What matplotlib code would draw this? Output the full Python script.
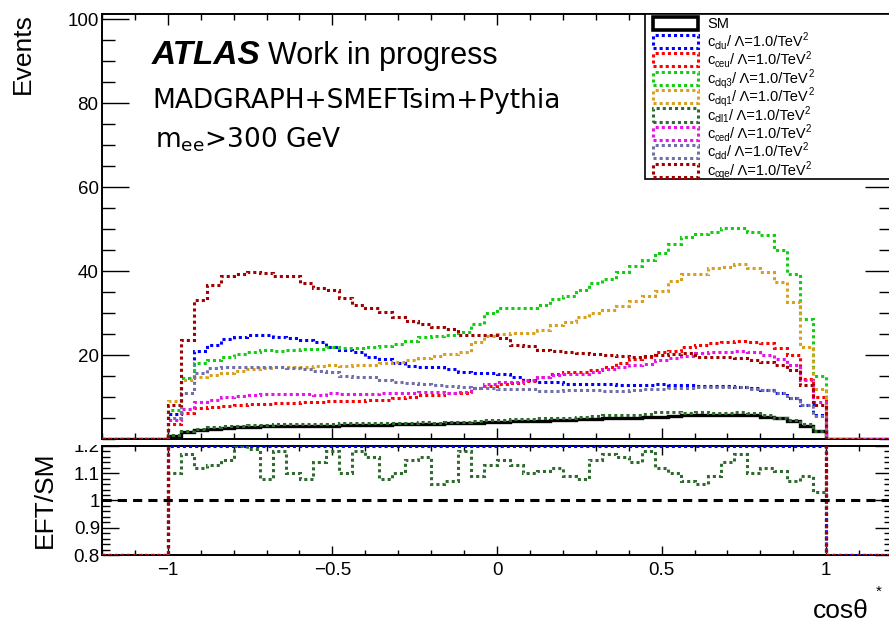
import numpy as np
import matplotlib
matplotlib.use("Agg")
import matplotlib.pyplot as plt
from matplotlib.patches import Rectangle
from matplotlib.text import Annotation
from matplotlib.ticker import MultipleLocator
from matplotlib.transforms import Bbox, TransformedBbox

plt.rcParams['font.family'] = ['Liberation Sans', 'DejaVu Sans']
plt.rcParams['mathtext.default'] = 'regular'

# Figure size in pixels (ROOT canvas)
W, H = 889, 624

# cos(theta*) binning: 50 bins between -1 and 1, empty bins out to +-1.2
edges = np.linspace(-1, 1, 51)

sm = [0.8, 1.6, 2.1, 2.4, 2.6, 2.8, 2.9, 3.0, 3.1, 3.1, 3.1, 3.2, 3.2, 3.3, 3.3, 3.4, 3.4, 3.5, 3.5, 3.6,
      3.6, 3.7, 3.8, 3.9, 4.0, 4.1, 4.2, 4.3, 4.4, 4.5, 4.6, 4.7, 4.8, 4.9, 5.0, 5.1, 5.2, 5.3, 5.5, 5.6,
      5.6, 5.7, 5.7, 5.7, 5.6, 5.3, 4.9, 4.2, 3.2, 1.8]
clu = [6.0, 14.5, 21.0, 22.4, 23.7, 24.2, 24.8, 24.8, 24.2, 24.0, 23.6, 23.0, 22.0, 21.2, 20.6, 19.6, 19.0, 18.2, 17.5, 17.1,
       17.2, 16.6, 16.0, 15.6, 15.6, 15.5, 14.7, 14.0, 13.6, 13.5, 13.2, 13.2, 13.2, 13.0, 12.9, 12.9, 12.9, 13.0, 12.9, 12.9,
       12.7, 12.7, 12.7, 12.5, 12.2, 11.7, 11.0, 9.8, 8.1, 5.7]
ceu = [3.5, 6.2, 7.3, 7.7, 7.9, 8.1, 8.3, 8.3, 8.5, 8.5, 8.8, 8.9, 9.1, 9.1, 9.1, 9.3, 9.4, 9.7, 10.1, 10.5,
       10.5, 10.9, 11.0, 12.1, 12.6, 13.2, 13.4, 13.8, 14.7, 15.5, 15.9, 16.0, 16.4, 17.2, 18.0, 19.0, 19.6, 20.6, 21.0, 21.8,
       22.4, 22.8, 23.0, 23.4, 23.2, 22.8, 21.7, 20.0, 14.4, 10.1]
clq3 = [7.0, 14.5, 18.0, 18.8, 19.6, 20.2, 20.8, 21.2, 21.0, 21.3, 21.4, 21.4, 21.8, 21.7, 21.7, 21.8, 22.1, 22.6, 23.3, 24.2,
        24.5, 24.8, 25.5, 27.5, 29.9, 31.1, 31.3, 31.3, 31.9, 33.3, 34.0, 35.5, 37.2, 38.0, 39.8, 41.2, 42.6, 44.2, 46.4, 48.2,
        48.7, 49.4, 50.2, 50.3, 49.4, 48.6, 45.0, 39.4, 28.5, 15.0]
clq1 = [9.0, 14.0, 14.8, 15.2, 15.8, 16.3, 16.6, 16.8, 17.1, 17.1, 17.2, 17.4, 17.6, 17.5, 17.6, 17.6, 18.0, 18.4, 18.8, 19.4,
        19.8, 20.2, 20.8, 23.2, 24.5, 25.0, 25.2, 25.3, 26.0, 27.1, 27.9, 29.0, 29.9, 30.7, 31.6, 32.9, 34.0, 35.3, 37.7, 39.2,
        39.4, 40.6, 41.0, 41.6, 40.6, 39.8, 37.5, 32.7, 22.0, 12.0]
cll1 = [0.9, 1.9, 2.5, 2.8, 3.0, 3.2, 3.3, 3.4, 3.5, 3.5, 3.5, 3.6, 3.6, 3.7, 3.8, 3.7, 3.8, 3.9, 3.9, 4.0,
        3.9, 4.0, 4.1, 4.3, 4.5, 4.6, 4.7, 4.8, 4.9, 4.9, 5.0, 5.3, 5.5, 5.6, 5.7, 5.8, 6.0, 6.5, 6.4, 6.3,
        6.4, 6.3, 6.3, 6.4, 6.1, 5.8, 5.1, 4.5, 3.5, 2.0]
ced = [4.5, 7.1, 8.9, 9.4, 9.9, 10.2, 10.5, 10.6, 10.7, 10.7, 10.6, 10.5, 10.9, 10.7, 10.6, 10.6, 10.9, 10.9, 11.0, 11.3,
       11.3, 11.0, 11.3, 12.1, 13.1, 13.6, 13.6, 14.0, 14.7, 15.2, 15.5, 15.5, 15.9, 16.6, 17.2, 17.6, 17.9, 18.8, 19.4, 19.8,
       20.4, 20.6, 20.8, 20.9, 20.6, 20.0, 19.0, 17.6, 14.0, 8.9]
cld = [5.0, 11.0, 15.6, 16.8, 17.1, 17.2, 17.2, 17.2, 17.2, 17.0, 16.6, 16.3, 15.9, 15.1, 14.8, 14.7, 14.0, 13.6, 13.3, 13.0,
       12.9, 12.6, 12.3, 12.1, 12.1, 11.9, 11.9, 11.8, 11.5, 11.5, 11.7, 11.7, 11.7, 11.5, 11.5, 11.7, 11.8, 12.0, 12.1, 12.2,
       12.3, 12.3, 12.4, 12.3, 12.0, 11.6, 11.0, 9.8, 8.0, 5.5]
cqe = [8.0, 23.5, 33.0, 36.6, 38.8, 39.4, 39.8, 39.6, 38.8, 38.8, 37.1, 36.0, 35.5, 33.5, 31.9, 31.3, 30.3, 29.1, 28.2, 27.5,
       26.7, 26.1, 24.8, 24.8, 24.8, 24.0, 22.4, 22.1, 21.2, 21.0, 20.6, 20.4, 20.2, 20.0, 19.8, 19.6, 19.8, 20.0, 20.2, 20.4,
       19.6, 19.6, 19.6, 19.4, 18.8, 18.4, 17.6, 16.4, 12.8, 8.1]

# EFT/SM for c_ll1, read from the lower pad
ratio_cll1 = [1.10, 1.17, 1.12, 1.13, 1.15, 1.20, 1.19, 1.08, 1.18, 1.10, 1.08, 1.14, 1.18, 1.10, 1.18, 1.16, 1.08, 1.10, 1.15, 1.16,
              1.06, 1.07, 1.18, 1.09, 1.13, 1.15, 1.13, 1.10, 1.11, 1.12, 1.09, 1.08, 1.15, 1.17, 1.16, 1.14, 1.18, 1.12, 1.10, 1.07,
              1.06, 1.09, 1.14, 1.17, 1.10, 1.12, 1.11, 1.07, 1.09, 1.03]

names = ['clu', 'ceu', 'clq3', 'clq1', 'cll1', 'ced', 'cld', 'cqe']
eft = [clu, ceu, clq3, clq1, cll1, ced, cld, cqe]
colors = ['#0000ff', '#ff0000', '#14cc14', '#d9a020', '#2f6a2f', '#e614e6', '#7070a8', '#a00000']

dotted = (0, (1, 1))
full_edges = np.r_[-1.2, edges, 1.2]


def pad(v):
    return np.r_[0.0, np.asarray(v, float), 0.0]


def px(x, y):
    return x / W, 1 - y / H


fig = plt.figure(figsize=(W / 100, H / 100), dpi=100)
fig.set_facecolor('white')

ax1 = fig.add_axes([102 / W, 1 - 439 / H, 790 / W, 425 / H])
ax2 = fig.add_axes([102 / W, 1 - 555 / H, 790 / W, 109 / H])

# upper pad: distributions
ax1.stairs(pad(sm), full_edges, baseline=None, color='black', lw=2.4, zorder=3)
for vals, c in zip(eft, colors):
    ax1.stairs(pad(vals), full_edges, baseline=None, color=c, lw=2.2, linestyle=dotted, zorder=3)

ax1.set_xlim(-1.2, 1.2)
ax1.set_ylim(0, 101.2)
ax1.set_yticks([20, 40, 60, 80, 100])
ax1.yaxis.set_minor_locator(MultipleLocator(5))
ax1.xaxis.set_major_locator(MultipleLocator(0.5))
ax1.xaxis.set_minor_locator(MultipleLocator(0.1))
ax1.tick_params(which='both', direction='in', top=True, right=True, labelbottom=False, width=1.0)
ax1.tick_params(axis='y', which='major', length=19.5, labelsize=13.5, pad=2.5)
ax1.tick_params(axis='y', which='minor', length=9.5)
ax1.tick_params(axis='x', which='major', length=8)
ax1.tick_params(axis='x', which='minor', length=4.3)

# lower pad: ratios
sm_arr = np.asarray(sm, float)
for i, (vals, c) in enumerate(zip(eft, colors)):
    if names[i] == 'cll1':
        r = pad(ratio_cll1)
    else:
        r = pad(np.asarray(vals, float) / sm_arr)
    if i == 0:
        r = np.clip(r, 0.8, 1.2)
    else:
        r = np.maximum(r, 0.8)
    ax2.stairs(r, full_edges, baseline=None, color=c, lw=2.2, linestyle=dotted, zorder=3)
ax2.axhline(1.0, color='black', lw=2.2, linestyle=(0, (3, 2)), zorder=4)

ax2.set_xlim(-1.2, 1.2)
ax2.set_ylim(0.8, 1.2)
ax2.set_yticks([0.8, 0.9, 1.0, 1.1, 1.2])
ax2.set_yticklabels(['0.8', '0.9', '1', '1.1', '1.2'])
ax2.yaxis.set_minor_locator(MultipleLocator(0.02))
ax2.xaxis.set_minor_locator(MultipleLocator(0.1))
ax2.set_xticks([-1, -0.5, 0, 0.5, 1])
ax2.set_xticklabels(['\u22121', '\u22120.5', '0', '0.5', '1'])
ax2.tick_params(which='both', direction='in', top=True, right=True, width=1.0)
ax2.tick_params(axis='y', which='major', length=12, labelsize=13.5, pad=1.5)
ax2.tick_params(axis='y', which='minor', length=6)
ax2.tick_params(axis='x', which='major', length=6.5, labelsize=13.5, pad=5)
ax2.tick_params(axis='x', which='minor', length=3.5)

for ax in (ax1, ax2):
    for s in ax.spines.values():
        s.set_linewidth(1.4)

# the "1.2" label is half hidden behind the upper pad
top_lab = ax2.yaxis.get_major_ticks()[-1].label1
top_lab.set_clip_box(TransformedBbox(Bbox([[0, 0], [1, 1 - 445 / H]]), fig.transFigure))
top_lab.set_clip_on(True)

# axis titles
fig.text(*px(23, 13), 'Events', rotation=90, ha='center', va='top', fontsize=19)
fig.text(*px(45, 500), 'EFT/SM', rotation=90, ha='center', va='center', fontsize=19)
fig.text(*px(869, 618), 'cos\u03b8', ha='right', va='baseline', fontsize=19)
fig.text(*px(879, 592), '*', ha='center', va='center', fontsize=11)

# labels
fig.text(*px(152, 64), 'ATLAS', fontsize=24, fontweight='bold', fontstyle='italic', va='baseline')
fig.text(*px(268, 64), 'Work in progress', fontsize=22, va='baseline')
fig.text(*px(152, 108), 'MADGRAPH+SMEFTsim+Pythia', fontsize=19, family='DejaVu Sans', va='baseline')
fig.text(*px(155, 148), r'm$_{\mathregular{ee}}$>300 GeV', fontsize=19, family='DejaVu Sans', va='baseline')

# legend
x0, y0 = px(645, 179)
fig.add_artist(Rectangle((x0, y0), (W - 645 + 10) / W, (179 - 14) / H, transform=fig.transFigure,
                         facecolor='white', edgecolor='black', lw=1.2, clip_on=False))
lcolors = ['black'] + colors
fs, fs_small = 10.5, 7
for i, c in enumerate(lcolors):
    yc = 23.3 + 18.34 * i
    bx, by = px(653, yc + 6.5)
    style = 'solid' if i == 0 else dotted
    lw = 2.6 if i == 0 else 2.2
    fig.add_artist(Rectangle((bx, by), 45 / W, 13 / H, transform=fig.transFigure,
                             facecolor='white', edgecolor=c, lw=lw, linestyle=style))
    if i == 0:
        fig.text(*px(707, yc + 4.5), 'SM', fontsize=fs, va='baseline', ha='left', zorder=3)
        continue
    t1 = fig.text(*px(707, yc + 4.5), 'c', fontsize=fs, va='baseline', ha='left', zorder=3)
    t2 = fig.add_artist(Annotation(names[i - 1], xy=(1, 0), xycoords=t1, xytext=(0, -1.4),
                                   textcoords='offset points', fontsize=fs_small, va='bottom', ha='left', zorder=3))
    t3 = fig.add_artist(Annotation('/ \u039b=1.0/TeV', xy=(1, 0), xycoords=t2, xytext=(0, 1.4),
                                   textcoords='offset points', fontsize=fs, va='bottom', ha='left', zorder=3))
    fig.add_artist(Annotation('2', xy=(1, 0), xycoords=t3, xytext=(0.3, 5.0),
                              textcoords='offset points', fontsize=fs_small, va='bottom', ha='left', zorder=3))

fig.savefig('out.png', dpi=100)
